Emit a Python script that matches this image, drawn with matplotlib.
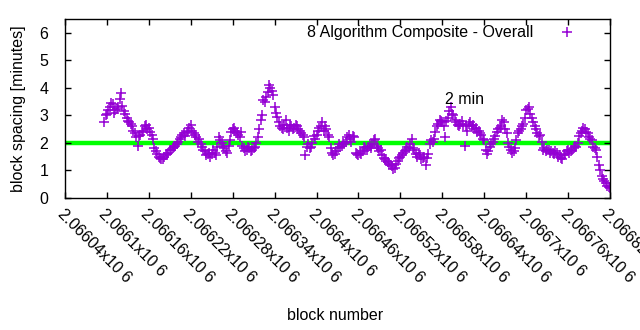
import numpy as np
import matplotlib
matplotlib.use("Agg")
import matplotlib.pyplot as plt

plt.rcParams['font.family'] = ['Liberation Sans', 'DejaVu Sans']

# block spacing in minutes, even blocks (every 4th starting at 2066096)
first_block_a = 2066096
spacing_a = [
    2.75, 3.05, 3.3, 3.4, 3.2, 3.3, 3.8, 3.15, 2.9, 2.75,
    2.6, 2.35, 1.9, 2.3, 2.45, 2.65, 2.55, 2.3, 1.8, 1.6,
    1.45, 1.4, 1.55, 1.65, 1.75, 1.85, 1.95, 2.15, 2.3, 2.25,
    2.45, 2.65, 2.35, 2.2, 2.15, 1.85, 1.7, 1.6, 1.5, 1.75,
    1.55, 2.2, 2.0, 1.8, 1.65, 2.1, 2.5, 2.45, 2.3, 2.4,
    1.8, 1.75, 1.8, 1.75, 1.85, 2.2, 2.85, 3.55, 3.65, 4.1,
    3.9, 3.3, 2.95, 2.6, 2.5, 2.85, 2.45, 2.6, 2.55, 2.6,
    2.45, 2.3, 1.55, 1.95, 1.85, 2.25, 2.3, 2.55, 2.75, 2.6,
    2.3, 1.8, 1.55, 1.7, 1.95, 1.9, 1.95, 2.2, 2.15, 2.25,
    1.65, 1.55, 1.6, 1.85, 1.75, 1.9, 1.95, 2.15, 1.8, 1.75,
    1.45, 1.35, 1.25, 1.15, 1.1, 1.35, 1.5, 1.65, 1.75, 1.8,
    2.15, 1.75, 1.5, 1.55, 1.45, 1.2, 1.6, 2.1, 2.15, 2.6,
    2.85, 2.75, 2.2, 2.9, 3.3, 3.0, 2.75, 2.6, 2.8, 1.9,
    2.45, 2.75, 2.65, 2.55, 2.45, 2.3, 2.1, 1.6, 1.85, 2.05,
    2.25, 2.5, 2.6, 2.75, 2.35, 1.85, 1.65, 1.8, 2.35, 2.5,
    2.7, 3.2, 3.3, 2.9, 2.6, 2.35, 2.3, 1.75, 1.7, 1.75,
    1.7, 1.6, 1.65, 1.55, 1.4, 1.6, 1.75, 1.7, 1.8, 1.85,
    2.25, 2.45, 2.5, 2.35, 2.15, 1.85, 1.75, 1.2, 0.8, 0.6,
    0.45, 0.35,
]
# the blocks in between (every 4th starting at 2066098)
first_block_b = 2066098
spacing_b = [
    3.0, 3.2, 3.45, 3.1, 3.25, 3.6, 3.35, 3.05, 2.8, 2.7,
    2.45, 2.2, 2.25, 2.4, 2.6, 2.5, 2.4, 2.15, 1.7, 1.5,
    1.4, 1.5, 1.6, 1.75, 1.8, 1.9, 2.05, 2.2, 2.35, 2.4,
    2.55, 2.45, 2.3, 2.05, 1.95, 1.75, 1.55, 1.65, 1.6, 1.65,
    1.85, 2.1, 1.9, 1.7, 1.9, 2.4, 2.55, 2.35, 2.2, 1.9,
    1.7, 1.85, 1.7, 1.8, 2.0, 2.5, 3.0, 3.5, 3.85, 4.0,
    3.75, 3.1, 2.75, 2.55, 2.65, 2.55, 2.65, 2.5, 2.65, 2.5,
    2.35, 2.2, 1.85, 1.8, 2.0, 2.15, 2.45, 2.6, 2.45, 2.5,
    2.2, 1.65, 1.6, 1.8, 1.85, 2.0, 2.05, 2.3, 2.05, 2.2,
    1.6, 1.65, 1.7, 1.8, 1.85, 1.8, 2.1, 1.9, 1.7, 1.55,
    1.4, 1.3, 1.2, 1.05, 1.25, 1.45, 1.55, 1.7, 1.85, 1.95,
    1.8, 1.6, 1.65, 1.4, 1.5, 1.45, 1.95, 2.05, 2.4, 2.7,
    2.8, 2.6, 2.8, 3.15, 3.05, 2.85, 2.65, 2.7, 2.65, 2.6,
    2.7, 2.6, 2.5, 2.4, 2.35, 2.15, 1.75, 1.7, 1.95, 2.15,
    2.4, 2.55, 2.85, 2.5, 2.0, 1.75, 1.7, 2.1, 2.45, 2.6,
    2.9, 3.25, 3.05, 2.75, 2.5, 2.25, 2.05, 1.8, 1.75, 1.65,
    1.65, 1.7, 1.5, 1.45, 1.55, 1.7, 1.65, 1.75, 1.9, 2.0,
    2.35, 2.55, 2.4, 2.2, 2.1, 1.8, 1.5, 1.0, 0.7, 0.55,
    0.4,
]
blocks = np.concatenate([first_block_a + 4 * np.arange(len(spacing_a)),
                         first_block_b + 4 * np.arange(len(spacing_b))])
spacing = np.concatenate([spacing_a, spacing_b])

target = 2.0
xticks = np.arange(2066040, 2066821, 60)
xticklabels = ['%gx10 6' % (t / 1e6) for t in xticks]

fig = plt.figure(figsize=(6.4, 3.3), dpi=100)
ax = fig.add_axes([0.1016, 0.4, 0.8515, 0.5424])

ax.axhline(target, color='#00ff00', lw=3.2, zorder=1)
ax.plot(blocks, spacing, '+', color='#9400d3', ms=6.5, mew=1.1,
        label='8 Algorithm Composite - Overall', zorder=2)

ax.text(2066584, 3.56, '2 min', fontsize=11.5, va='center', ha='left')

ax.set_xlim(2066040, 2066820)
ax.set_ylim(0, 6.5)
ax.set_yticks(range(0, 7))
ax.set_xticks(xticks)
ax.set_xticklabels(xticklabels, rotation=-45, ha='left', va='top',
                   rotation_mode='anchor')
ax.tick_params(direction='in', length=4, width=1, top=True, right=True,
               labelsize=11.5, pad=12)
ax.tick_params(axis='x', pad=6)
for s in ax.spines.values():
    s.set_linewidth(1)

ax.set_ylabel('block spacing [minutes]', fontsize=11.5)
ax.yaxis.set_label_coords(-0.072, 0.5)
ax.set_xlabel('block number', fontsize=11.5)
ax.xaxis.set_label_coords(0.495, -0.615)

ax.legend(loc='upper right', frameon=False, markerfirst=False, fontsize=11.5,
          handletextpad=1.1, borderaxespad=0.2, bbox_to_anchor=(0.968, 1.018))

fig.savefig('out.png', dpi=100)
